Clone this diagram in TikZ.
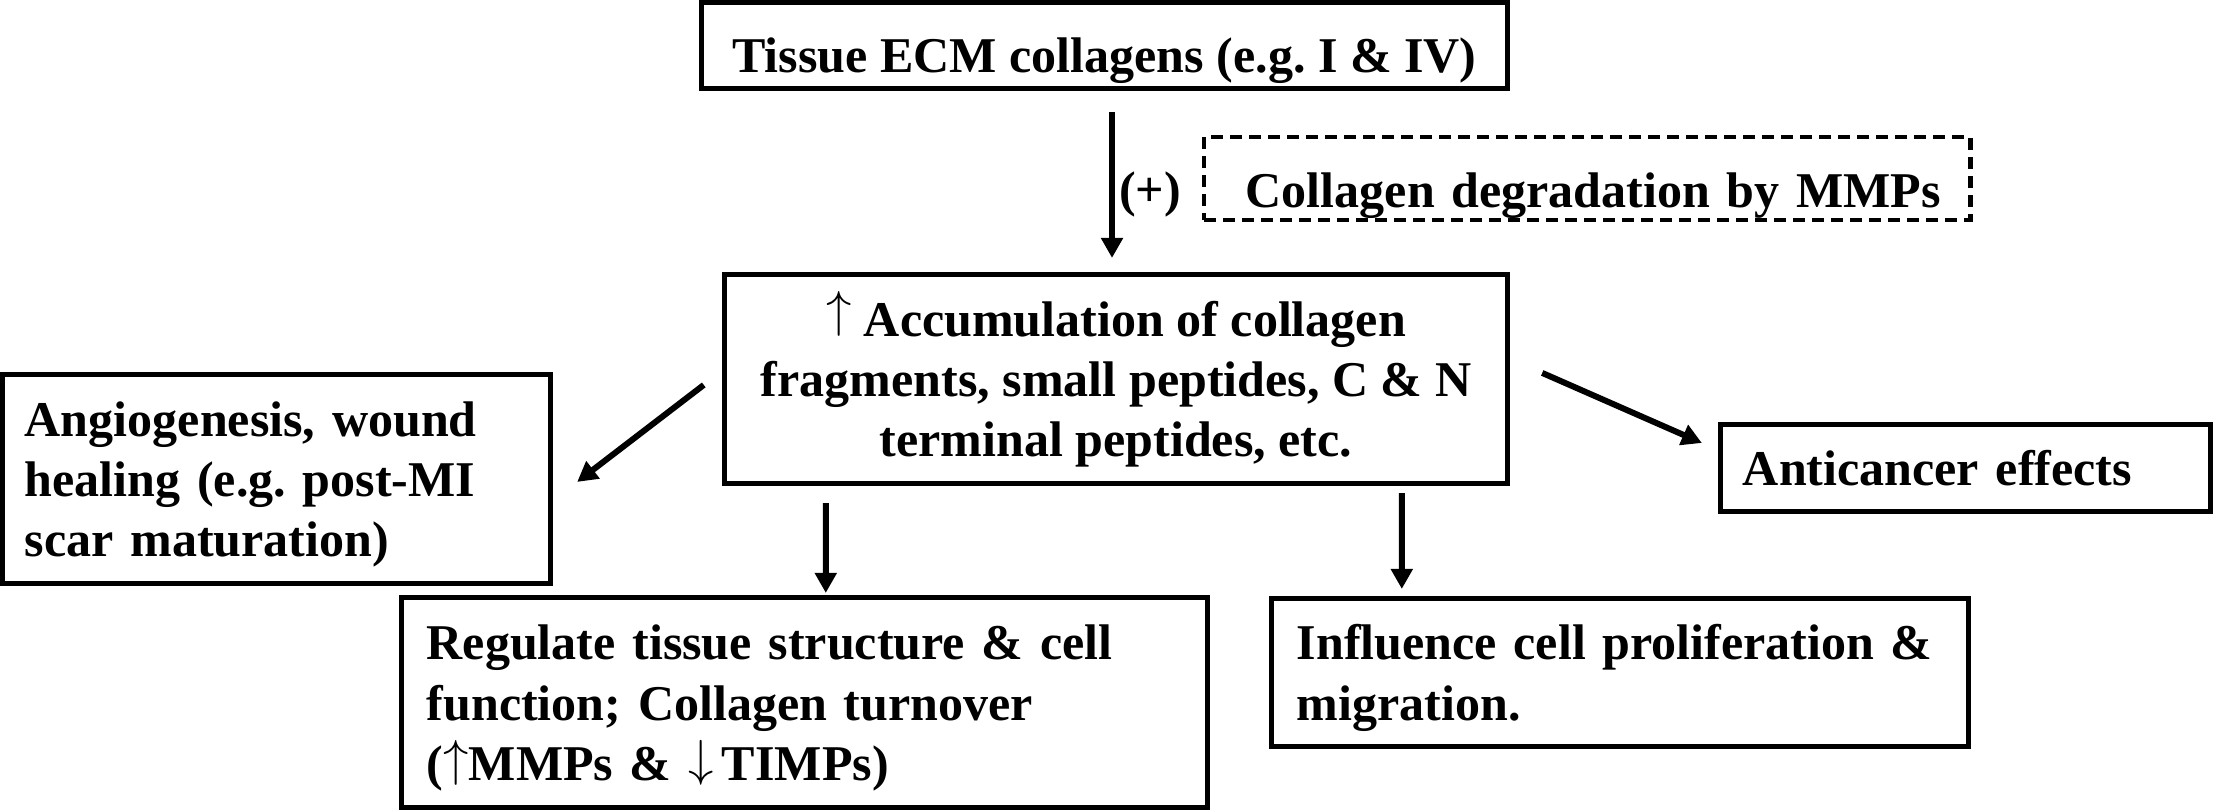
\documentclass[tikz,border=0pt]{standalone}
\usepackage{fontspec}
\setmainfont{Liberation Serif}
\usetikzlibrary{arrows.meta,calc}
\newcommand{\hs}[1]{\rule{0pt}{#1}}
\newcommand{\ds}{\rule[-0.12cm]{0pt}{0.12cm}}
\newcommand{\upar}[1]{\raisebox{#1}{$\uparrow$}}
\newcommand{\dnar}[1]{\raisebox{#1}{$\downarrow$}}
\frenchspacing
\begin{document}
\begin{tikzpicture}[x=0.01cm,y=-0.01cm,
  every node/.style={font=\fontsize{14.23pt}{17.1pt}\selectfont\bfseries\frenchspacing},
  box/.style={draw, line width=0.05cm, inner ysep=0pt, outer sep=0pt},
  cbox/.style={box, align=center},
  lbox/.style={box, align=left},
  dbox/.style={lbox, line width=0.045cm, dash pattern=on 0.12cm off 0.07cm},
  arr/.style={line width=0.06cm, -{Triangle[length=0.2cm,width=0.21cm]}}
]
\useasboundingbox[fill=white] (0,0) rectangle (2213,810);

% top box
\node[cbox, minimum width=8.05cm, minimum height=0.85cm] (t) at (1104.5,45.5)
  {\hs{0.65cm}Tissue ECM collagens (e.g. I \& IV)\ds};

% dashed box
\node[dbox, minimum width=7.66cm, minimum height=0.83cm, inner xsep=0.42cm, text width=6.82cm] (d) at (1587,178.5)
  {\hs{0.69cm}\mbox{Collagen degradation by MMPs}\ds};

% (+) label
\node[anchor=base, inner sep=0pt] (p) at (1150,207) {(+)};

% middle box
\node[cbox, minimum width=7.82cm, minimum height=2.08cm] (m) at (1116,379)
  {\hs{0.47cm}\upar{0.19em}{} Accumulation of collagen\\fragments, small peptides, C \& N\\terminal peptides, etc.\ds};

% left box
\node[lbox, minimum width=5.47cm, minimum height=2.08cm, inner xsep=0.22cm, text width=5.03cm] (l) at (276.5,479)
  {\hs{0.47cm}Angiogenesis, wound\\healing (e.g. post-MI\\scar maturation)\ds};

% anticancer box
\node[lbox, minimum width=4.89cm, minimum height=0.86cm, inner xsep=0.22cm, text width=4.45cm] (a) at (1965.5,468)
  {\hs{0.46cm}Anticancer effects\ds};

% regulate box
\node[lbox, minimum width=8.05cm, minimum height=2.09cm, inner xsep=0.25cm, text width=7.55cm] (r) at (804.5,702.5)
  {\hs{0.47cm}Regulate tissue structure \& cell\\function; Collagen turnover\\(\upar{0.1em}MMPs \& \dnar{0.1em}\,TIMPs)\ds};

% influence box
\node[lbox, minimum width=6.96cm, minimum height=1.47cm, inner xsep=0.25cm, text width=6.46cm] (i) at (1620,672.5)
  {\hs{0.47cm}Influence cell proliferation \&\\migration.\ds};

% arrows
\draw[arr] ($(t.south)+(7.5,24)$) -- ($(m.north)+(-4,-17)$);
\draw[arr] ($(m.north west)+(-21,110)$) -- ($(l.north east)+(27,107)$);
\draw[arr] ($(m.north east)+(35,98)$) -- ($(a.north west)+(-19,18)$);
\draw[arr] ($(m.south west)+(101,20)$) -- ($(r.north west)+(424,-5)$);
\draw[arr] ($(m.south west)+(677,10)$) -- ($(i.north west)+(130,-10)$);
\end{tikzpicture}
\end{document}
